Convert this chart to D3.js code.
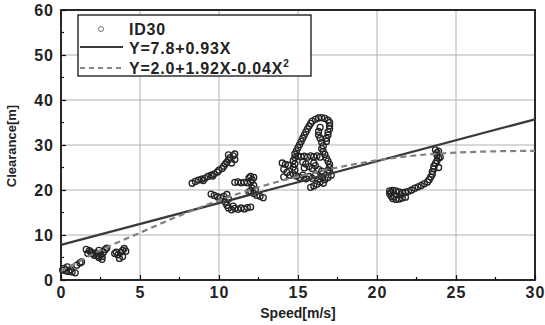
<!DOCTYPE html>
<html>
<head>
<meta charset="utf-8">
<script src="https://cdn.jsdelivr.net/npm/d3@7"></script>
<style>
  body { margin: 0; background: #fff; }
  svg text { font-family: "Liberation Sans", Arial, sans-serif; font-weight: bold; fill: #222; }
</style>
</head>
<body>
<svg id="chart" width="545" height="325"></svg>
<script>
// measured points (speed m/s, clearance m), grouped by cluster
var speedA = [0.1,0.3,0.5,0.7,0.9,0.2,0.4,1.0,1.2,1.3,0.6];
var clearA = [2.2,2.0,1.9,1.8,1.6,2.6,2.9,3.3,3.8,4.0,2.3];
var speedB = [1.6,1.8,1.9,2.0,2.1,2.2,2.3,2.4,2.5,2.6,2.7,2.8,2.9,1.7,2.4,2.6, 3.4,3.6,3.7,3.8,3.9,4.0,4.1,3.5,3.9];
var clearB = [6.8,6.5,6.2,5.9,5.5,6.0,5.4,5.0,5.6,4.6,6.2,6.8,7.1,5.9,6.6,5.2, 5.9,5.6,4.8,6.2,6.6,7.0,6.4,6.2,5.2];
var speedC = [8.3,8.5,8.7,8.9,9.1,9.3,9.5,9.7,9.9,10.0,10.2,10.3,10.4,10.5,10.6,10.7,10.9,11.0,10.8,11.0,10.6,9.6,9.0];
var clearC = [21.5,21.9,22.2,22.4,22.6,23.0,23.3,23.6,24.0,24.4,24.8,25.3,25.8,26.2,26.7,27.2,27.6,28.0,26.0,26.8,27.8,23.1,22.1];
var speedD = [9.5,9.7,9.9,10.1,10.3,10.5,10.6,10.4,10.5,10.6,10.8,11.0,11.2,11.4,11.6,11.8,12.0,10.9,
              11.0,11.2,11.4,11.6,11.8,12.0,12.1,12.2,12.0,11.9,12.2,12.1,12.0,12.2,12.4,12.6,12.8,11.9,12.3];
var clearD = [19.1,18.8,18.5,18.3,18.6,19.0,18.0,17.3,16.6,16.0,15.6,15.9,15.7,16.0,15.8,16.1,16.2,16.4,
              21.7,21.8,21.6,21.7,21.6,21.8,22.3,22.8,23.0,22.7,21.0,20.4,19.8,19.2,18.8,18.6,18.3,19.6,20.0];
var speedE = [15.2,15.3,15.4,15.5,15.6,15.7,15.8,15.9,16.1,16.3,16.5,16.7,16.9,17.0,17.0,17.0,16.9,16.9,16.8,16.8,16.4,16.3,16.3,16.4,16.5,16.6,16.5,
              15.1,15.0,14.9,14.8,15.0,15.2,15.4,15.6,15.8,16.0,16.2,16.4,
              16.6,16.7,16.8,16.9,17.0,17.0,16.9,14.8,14.7,14.8,14.7,14.8,
              15.3,15.5,15.7,15.9,16.1,16.3,16.5,15.4,16.0,
              14.0,14.2,14.4,14.1,14.3,14.5,14.1,
              14.7,14.9,15.1,15.3,15.5,15.7,15.9,16.1,16.3,16.5,16.7,16.9,17.1,17.0,
              16.4,16.2,16.0,15.8,16.6];
var clearE = [30.8,31.5,32.2,32.9,33.6,34.2,34.8,35.3,35.7,36.0,36.1,35.9,35.5,35.0,34.3,33.6,32.9,32.2,31.5,30.8,33.9,33.0,32.2,31.5,30.6,29.8,29.2,
              30.1,29.4,28.7,28.0,27.6,27.4,27.5,27.3,27.6,27.4,27.6,27.3,
              28.6,27.9,27.1,26.4,25.7,25.0,24.4,27.2,26.5,25.8,25.1,24.4,
              26.2,25.8,25.2,24.8,25.4,24.6,24.2,24.9,26.0,
              26.0,25.7,25.5,24.6,23.9,23.3,22.9,
              23.6,23.1,22.8,23.3,22.5,23.0,22.6,23.2,22.4,22.9,22.3,22.8,23.3,24.1,
              21.8,21.3,20.9,20.6,21.5];
var speedF = [23.7,23.8,23.8,23.9,23.8,23.7,23.6,23.6,23.5,23.5,23.4,23.3,23.2,23.0,22.8,22.6,22.4,22.2,22.0,21.8,21.6,21.4,21.2,21.0,20.8,20.8,20.9,21.0,21.2,21.4,21.6,21.8,21.5,21.1,20.9,23.9,24.0,23.9];
var clearF = [28.9,28.3,27.7,27.1,26.5,25.9,25.3,24.7,24.1,23.5,22.9,22.3,21.8,21.4,21.0,20.7,20.4,20.0,19.7,19.5,19.4,19.6,19.8,19.9,19.8,19.2,18.6,18.1,17.9,18.0,18.2,18.4,18.9,18.6,19.5,28.6,27.3,25.0];

// fitted lines
var linFitX = [0, 30];
var linFitY = [7.8, 35.7];
var quadFitX = [0, 2.5, 5, 7.5, 10, 12.5, 15, 17.5, 20, 22.5, 25, 27.5, 30];
var quadFitY = [2.0, 6.6, 10.5, 14.3, 17.7, 20.6, 23.0, 25.0, 26.6, 27.7, 28.3, 28.6, 28.7];

var xTicks = [0, 5, 10, 15, 20, 25, 30];
var yTicks = [0, 10, 20, 30, 40, 50, 60];
var legendLabels = ["ID30", "Y=7.8+0.93X", "Y=2.0+1.92X-0.04X"];

var svg = d3.select("#chart");
var margin = { top: 10, right: 10, bottom: 45, left: 61 };
var width = 535 - margin.left;
var height = 280 - margin.top;

var x = d3.scaleLinear().domain([0, 30]).range([0, width]);
var y = d3.scaleLinear().domain([0, 60]).range([height, 0]);

var g = svg.append("g").attr("transform", "translate(" + margin.left + "," + margin.top + ")");

// grid
g.append("g").selectAll("line").data(xTicks.slice(1, -1)).enter().append("line")
  .attr("x1", d => x(d)).attr("x2", d => x(d)).attr("y1", 0).attr("y2", height)
  .attr("stroke", "#b0b0b0").attr("stroke-width", 1);
g.append("g").selectAll("line").data(yTicks.slice(1, -1)).enter().append("line")
  .attr("y1", d => y(d)).attr("y2", d => y(d)).attr("x1", 0).attr("x2", width)
  .attr("stroke", "#b0b0b0").attr("stroke-width", 1);

// axes with inward ticks
var xAxis = g.append("g").attr("transform", "translate(0," + height + ")")
  .call(d3.axisBottom(x).tickValues(xTicks).tickSize(-5).tickPadding(7));
var yAxis = g.append("g")
  .call(d3.axisLeft(y).tickValues(yTicks).tickSize(-5).tickPadding(7));
[xAxis, yAxis].forEach(function (a) {
  a.select(".domain").remove();
  a.selectAll(".tick line").attr("stroke", "#111").attr("stroke-width", 1.2);
  a.selectAll("text").attr("font-size", 16).attr("letter-spacing", 1).attr("fill", "#1a1a1a")
    .style("font-family", "'Liberation Sans', Arial, sans-serif").style("font-weight", "bold");
});

// minor ticks
g.append("g").selectAll("line").data(d3.range(2.5, 30, 5)).enter().append("line")
  .attr("x1", d => x(d)).attr("x2", d => x(d)).attr("y1", height).attr("y2", height - 3)
  .attr("stroke", "#111").attr("stroke-width", 1.2);
g.append("g").selectAll("line").data(d3.range(5, 60, 10)).enter().append("line")
  .attr("y1", d => y(d)).attr("y2", d => y(d)).attr("x1", 0).attr("x2", 3)
  .attr("stroke", "#111").attr("stroke-width", 1.2);

// frame
g.append("rect").attr("width", width).attr("height", height)
  .attr("fill", "none").attr("stroke", "#111").attr("stroke-width", 1.8);

// points
var pts = [];
[[speedA, clearA], [speedB, clearB], [speedC, clearC], [speedD, clearD], [speedE, clearE], [speedF, clearF]]
  .forEach(function (p) { p[0].forEach(function (s, i) { pts.push([s, p[1][i]]); }); });

g.append("g").selectAll("circle").data(pts).enter().append("circle")
  .attr("cx", d => x(d[0])).attr("cy", d => y(d[1])).attr("r", 3)
  .attr("fill", "none").attr("stroke", "#222").attr("stroke-width", 1.3);

// fit lines
var line = d3.line().x(d => x(d[0])).y(d => y(d[1]));
g.append("path").datum(linFitX.map((v, i) => [v, linFitY[i]]))
  .attr("d", line).attr("fill", "none").attr("stroke", "#3a3a3a").attr("stroke-width", 2.2);
g.append("path").datum(quadFitX.map((v, i) => [v, quadFitY[i]]))
  .attr("d", line.curve(d3.curveMonotoneX)).attr("fill", "none")
  .attr("stroke", "#808080").attr("stroke-width", 2.2).attr("stroke-dasharray", "6,4");

// legend
var lg = svg.append("g");
lg.append("rect").attr("x", 78).attr("y", 15).attr("width", 233).attr("height", 61)
  .attr("fill", "#fff").attr("stroke", "#111").attr("stroke-width", 1.3);
lg.append("circle").attr("cx", 101).attr("cy", 29).attr("r", 2.5)
  .attr("fill", "none").attr("stroke", "#777").attr("stroke-width", 1);
lg.append("line").attr("x1", 80).attr("x2", 123).attr("y1", 47).attr("y2", 47)
  .attr("stroke", "#3a3a3a").attr("stroke-width", 2.2);
lg.append("line").attr("x1", 80).attr("x2", 123).attr("y1", 68).attr("y2", 68)
  .attr("stroke", "#888").attr("stroke-width", 2).attr("stroke-dasharray", "5,4");
var ly = [35, 54, 74];
legendLabels.forEach(function (t, i) {
  var tx = lg.append("text").attr("x", 129).attr("y", ly[i]).attr("font-size", 16)
    .attr("letter-spacing", 0.8).text(t);
  if (i === 2) tx.append("tspan").attr("dy", -7).attr("font-size", 10).text("2");
});

// axis titles
svg.append("text").attr("x", 298).attr("y", 318).attr("text-anchor", "middle")
  .attr("font-size", 14).text("Speed[m/s]");
svg.append("text").attr("transform", "translate(16,146) rotate(-90)").attr("text-anchor", "middle")
  .attr("font-size", 13).text("Clearance[m]");
</script>
</body>
</html>
